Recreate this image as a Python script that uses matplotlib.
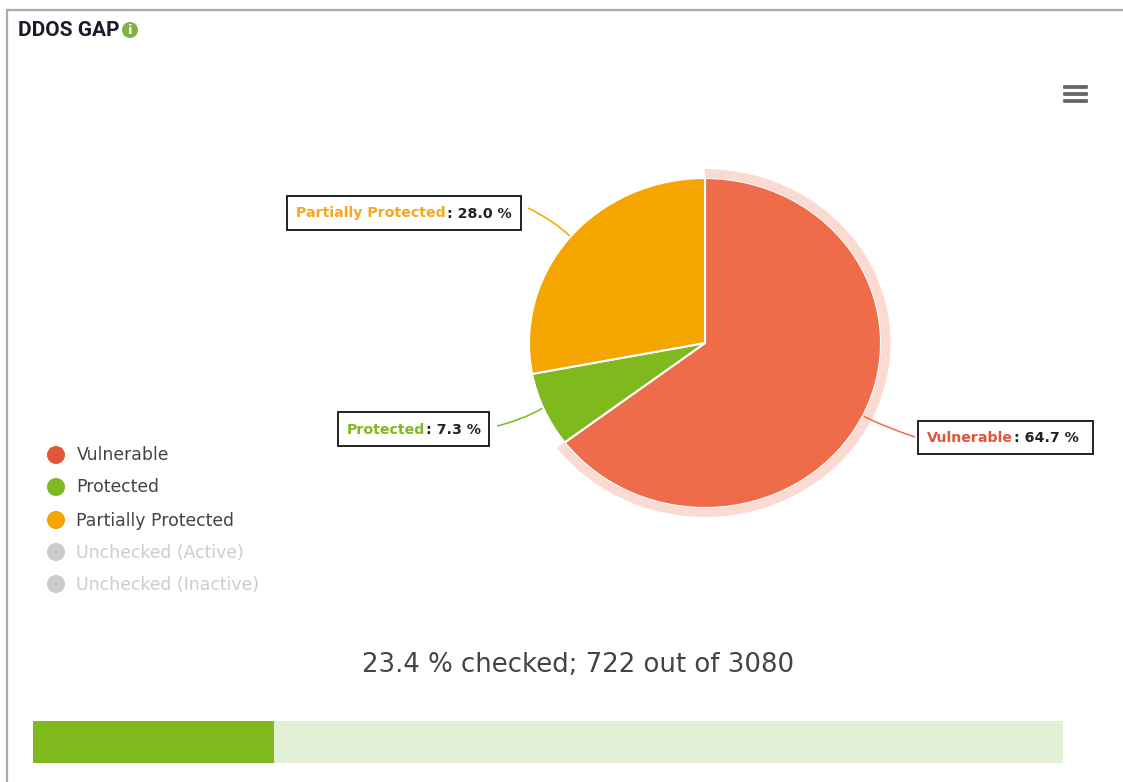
import matplotlib
matplotlib.use('Agg')
import matplotlib.pyplot as plt
from matplotlib.patches import Circle, FancyBboxPatch, PathPatch, Rectangle, Wedge
from matplotlib.path import Path

# ddos protection status
labels = ['Vulnerable', 'Protected', 'Partially Protected']
shares = [64.7, 7.3, 28.0]
colors = ['#EE6C4A', '#7FB91E', '#F5A500']
text_colors = ['#E0583A', '#7FB91E', '#F5A623']

legend_names = ['Vulnerable', 'Protected', 'Partially Protected', 'Unchecked (Active)', 'Unchecked (Inactive)']
legend_colors = ['#E2553A', '#7FB91E', '#F5A500', '#CCCCCC', '#CCCCCC']
legend_text = ['#444444', '#444444', '#444444', '#CCCCCC', '#CCCCCC']

checked = 722
total = 3080

W, H = 1123, 782
fig = plt.figure(figsize=(W / 100, H / 100), dpi=100, facecolor='white')

# overlay in pixel coordinates for everything except the pie
ax = fig.add_axes([0, 0, 1, 1])
ax.set_xlim(0, W)
ax.set_ylim(H, 0)
ax.axis('off')

# panel border
ax.plot([6.5, 6.5, W], [H, 9.5, 9.5], color='#ABABAB', lw=1.6, solid_joinstyle='miter')

ax.text(18, 31, 'DDOS GAP', family='Roboto', weight='bold', fontsize=15, color='#1A1A2A', va='center')
ax.add_patch(Circle((130, 30), 8, color='#7CB342', lw=0))
ax.text(130, 30, 'i', family='DejaVu Sans', weight='bold', fontsize=9.5, color='white', ha='center', va='center')

# menu icon
for y in [87, 94, 101]:
    ax.add_patch(FancyBboxPatch((1064, y - 1), 23, 2, boxstyle='round,pad=0.9', color='#666666', lw=0))

# pie, squashed vertically
cx, cy, rx, ry = 705, 343, 176, 165
box = 200
box_h = box * ry / rx
pie_ax = fig.add_axes([(cx - box) / W, 1 - (cy + box_h) / H, 2 * box / W, 2 * box_h / H])
wedges, _ = pie_ax.pie(shares, colors=colors, startangle=90, counterclock=False, radius=rx,
                       center=(0, 0), wedgeprops={'edgecolor': 'white', 'linewidth': 1.5},
                       normalize=True)
pie_ax.set_aspect('auto')
pie_ax.set_xlim(-box, box)
pie_ax.set_ylim(-box, box)
pie_ax.axis('off')
# hover halo on the first slice
w0 = wedges[0]
pie_ax.add_patch(Wedge((0, 0), rx + 9.5, w0.theta1, w0.theta2, width=9.5, facecolor=colors[0], alpha=0.25, lw=0))

# data labels with connectors
label_boxes = [(918, 421, 175, 33), (338, 412, 151, 34), (287, 196, 234, 34)]
connectors = [
    [(863, 416), (885, 427), (915, 437)],
    [(543, 408), (522, 420), (497, 426)],
    [(571, 237), (553, 220), (528, 208)],
]
for i in range(3):
    x, y, w, h = label_boxes[i]
    p = connectors[i]
    ax.add_patch(PathPatch(Path(p, [Path.MOVETO, Path.CURVE3, Path.CURVE3]), fc='none', ec=colors[i], lw=1.1))
    ax.add_patch(Rectangle((x, y), w, h, fc='white', ec='#222222', lw=1.4))
    t1 = ax.text(x + 8.5, y + h / 2 + 0.5, labels[i], color=text_colors[i], weight='bold', fontsize=10.2, va='center')
    ax.annotate(': %.1f %%' % shares[i], xy=(1, 0.5), xycoords=t1, xytext=(1, 0), textcoords='offset points',
                va='center', weight='bold', fontsize=10.2, color='#222222')

# legend
legend_y = [455, 487, 520, 552, 584]
for name, c, tc, y in zip(legend_names, legend_colors, legend_text, legend_y):
    ax.add_patch(Circle((56, y), 9, color=c, lw=0))
    ax.text(76.5, y + 0.5, name, color=tc, fontsize=12.4, va='center')

# progress
pct = 100.0 * checked / total
ax.text(578, 665, '%.1f %% checked; %d out of %d' % (pct, checked, total), ha='center', va='center',
        fontsize=18.75, color='#444444')

bar_x, bar_y, bar_w, bar_h = 32.5, 721, 1030.5, 42
ax.add_patch(Rectangle((bar_x, bar_y), bar_w, bar_h, color='#E2F0D6', lw=0))
ax.add_patch(Rectangle((bar_x, bar_y), bar_w * checked / total, bar_h, color='#7FB91E', lw=0))

fig.savefig('out.png', dpi=100)
